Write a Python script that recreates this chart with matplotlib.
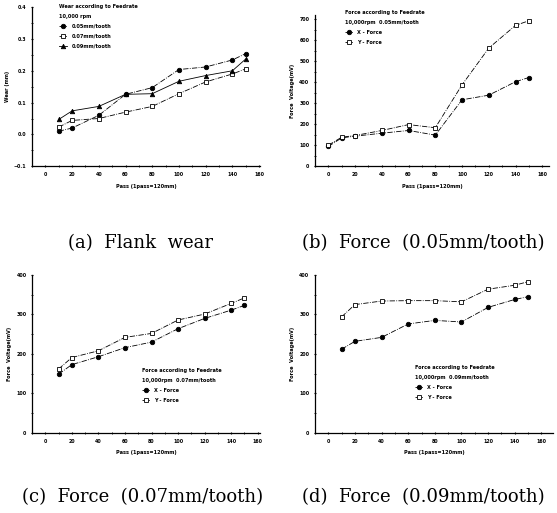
import numpy as np
import matplotlib.pyplot as plt
from matplotlib.ticker import MultipleLocator

# ---- data ----
pass_a = [10, 20, 40, 60, 80, 100, 120, 140, 150]
wear_005 = [0.010, 0.020, 0.060, 0.126, 0.147, 0.204, 0.212, 0.234, 0.254]
wear_007 = [0.023, 0.044, 0.050, 0.070, 0.088, 0.128, 0.165, 0.190, 0.206]
wear_009 = [0.047, 0.074, 0.088, 0.126, 0.128, 0.167, 0.185, 0.200, 0.237]

pass_b = [0, 10, 20, 40, 60, 80, 100, 120, 140, 150]
fx_005 = [94, 135, 143, 157, 170, 148, 316, 338, 402, 422]
fy_005 = [100, 138, 146, 170, 198, 183, 387, 562, 670, 692]

pass_c = [10, 20, 40, 60, 80, 100, 120, 140, 150]
fx_007 = [149, 173, 193, 216, 230, 264, 290, 311, 323]
fy_007 = [162, 191, 208, 242, 252, 286, 301, 328, 342]

pass_d = [10, 20, 40, 60, 80, 100, 120, 140, 150]
fx_009 = [212, 232, 242, 276, 285, 281, 318, 338, 345]
fy_009 = [294, 325, 334, 335, 335, 332, 364, 374, 383]

xticks = np.arange(0, 161, 20)
captions = ['(a)  Flank  wear', '(b)  Force  (0.05mm/tooth)',
            '(c)  Force  (0.07mm/tooth)', '(d)  Force  (0.09mm/tooth)']

fig = plt.figure(figsize=(5.57, 5.13), dpi=100)

tick_fs = 3.4
lab_fs = 3.6
leg_fs = 3.6


def style(ax, xlim, ylim, yticks, ylabel):
    ax.set_xlim(*xlim)
    ax.set_ylim(*ylim)
    ax.set_xticks(xticks)
    ax.set_yticks(yticks)
    ax.xaxis.set_minor_locator(MultipleLocator(10))
    ax.yaxis.set_minor_locator(MultipleLocator((yticks[1] - yticks[0]) / 2))
    for s in ['top', 'right']:
        ax.spines[s].set_visible(False)
    for s in ['left', 'bottom']:
        ax.spines[s].set_linewidth(0.9)
    ax.tick_params(which='major', direction='inout', length=2, width=0.8,
                   labelsize=tick_fs, pad=3)
    ax.tick_params(which='minor', direction='inout', length=1.2, width=0.6)
    for lab in ax.get_xticklabels() + ax.get_yticklabels():
        lab.set_fontweight('bold')
    ax.set_xlabel('Pass (1pass=120mm)', fontsize=lab_fs, fontweight='bold', labelpad=5)
    ax.set_ylabel(ylabel, fontsize=lab_fs, fontweight='bold', labelpad=3)


def legend(ax, title, loc, anchor):
    lg = ax.legend(title=title, loc=loc, bbox_to_anchor=anchor, frameon=False,
                   fontsize=leg_fs, title_fontsize=leg_fs, alignment='left',
                   handlelength=1.6, handletextpad=0.8, labelspacing=1.0)
    for t in lg.get_texts():
        t.set_fontweight('bold')
    lg.get_title().set_fontweight('bold')
    lg.get_title().set_linespacing(2.2)


kw = dict(color='black', lw=0.6, ms=3.2, mew=0.6)

# (a) flank wear
ax = fig.add_axes([0.0575, 0.676, 0.41, 0.31])
ax.plot(pass_a, wear_005, marker='o', ls='-.', mfc='black', label='0.05mm/tooth', **kw)
ax.plot(pass_a, wear_007, marker='s', ls='-.', mfc='white', label='0.07mm/tooth', **kw)
ax.plot(pass_a, wear_009, marker='^', ls='-', mfc='black', label='0.09mm/tooth', **kw)
style(ax, (-10, 161), (-0.1, 0.4), [-0.1, 0.0, 0.1, 0.2, 0.3, 0.4], 'Wear (mm)')
ax.yaxis.set_minor_locator(MultipleLocator(0.05))
legend(ax, 'Wear according to Feedrate\n10,000 rpm', 'upper left', (0.1, 1.05))

# (b) force 0.05
ax = fig.add_axes([0.5655, 0.676, 0.42, 0.295])
ax.plot(pass_b, fx_005, marker='o', ls='-.', mfc='black', label='X - Force', **kw)
ax.plot(pass_b, fy_005, marker='s', ls='-.', mfc='white', label='Y - Force', **kw)
style(ax, (-10, 165), (0, 720), np.arange(0, 701, 100), 'Force  Voltage(mV)')
legend(ax, 'Force according to Feedrate\n10,000rpm  0.05mm/tooth', 'upper left', (0.11, 1.06))

# (c) force 0.07
ax = fig.add_axes([0.0575, 0.156, 0.41, 0.308])
ax.plot(pass_c, fx_007, marker='o', ls='-.', mfc='black', label='X - Force', **kw)
ax.plot(pass_c, fy_007, marker='s', ls='-.', mfc='white', label='Y - Force', **kw)
style(ax, (-10, 162), (0, 400), np.arange(0, 401, 100), 'Force  Voltage(mV)')
legend(ax, 'Force according to Feedrate\n10,000rpm  0.07mm/tooth', 'upper left', (0.46, 0.44))

# (d) force 0.09
ax = fig.add_axes([0.5655, 0.156, 0.428, 0.308])
ax.plot(pass_d, fx_009, marker='o', ls='-.', mfc='black', label='X - Force', **kw)
ax.plot(pass_d, fy_009, marker='s', ls='-.', mfc='white', label='Y - Force', **kw)
style(ax, (-10, 169), (0, 400), np.arange(0, 401, 100), 'Force  Voltage(mV)')
legend(ax, 'Force according to Feedrate\n10,000rpm  0.09mm/tooth', 'upper left', (0.40, 0.46))

# captions
for (x, y), txt in zip([(0.253, 0.526), (0.76, 0.526), (0.256, 0.031), (0.76, 0.031)], captions):
    fig.text(x, y, txt, ha='center', va='center', fontsize=13,
             family='DejaVu Serif')

fig.savefig('out.png', dpi=100)
